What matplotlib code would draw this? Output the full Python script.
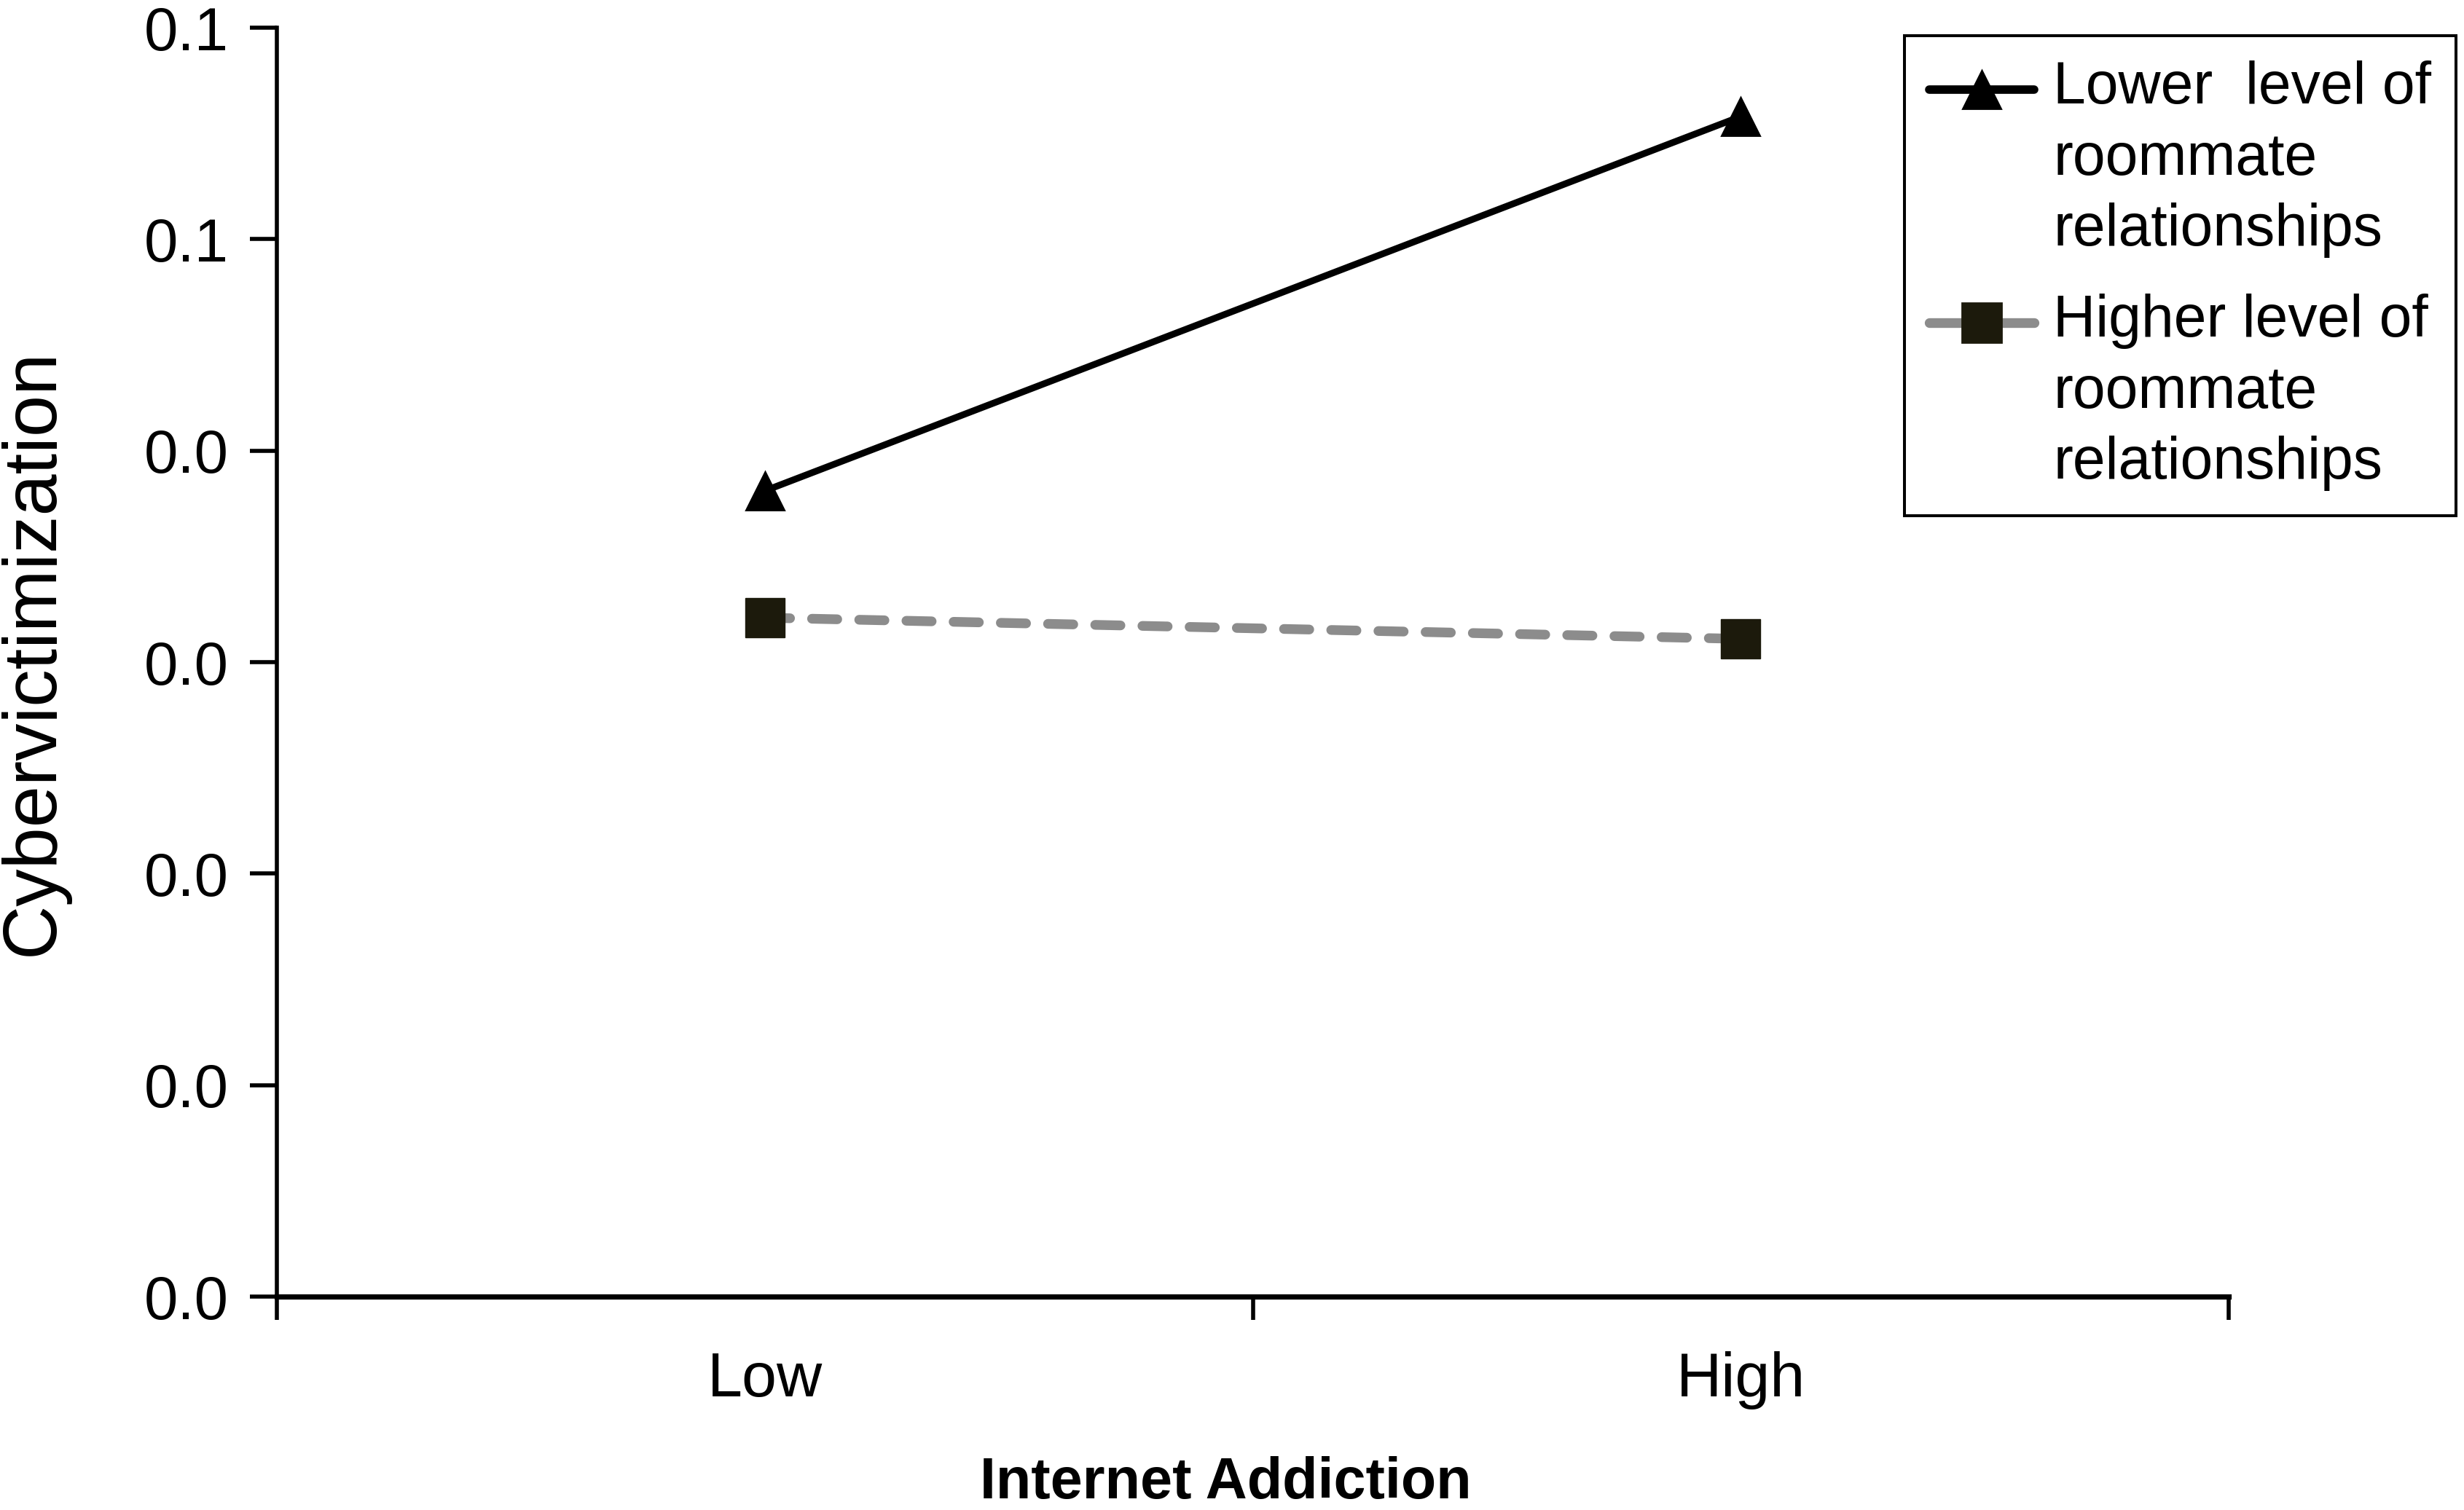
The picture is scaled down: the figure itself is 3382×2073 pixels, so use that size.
import matplotlib
matplotlib.use("Agg")
import matplotlib.pyplot as plt
from matplotlib.lines import Line2D
from matplotlib.legend_handler import HandlerLine2D
from matplotlib.ticker import FormatStrFormatter

# ---- data ----
x_positions = [1, 3]
x_labels = ["Low", "High"]
lower_roommate = [0.0381, 0.0558]
higher_roommate = [0.0321, 0.0311]
y_ticks = [0.00, 0.01, 0.02, 0.03, 0.04, 0.05, 0.06]
x_major_ticks = [0, 2, 4]
series_labels = ["Lower  level of\nroommate\nrelationships",
                 "Higher level of\nroommate\nrelationships"]
x_title = "Internet Addiction"
y_title = "Cybervictimization"

plt.rcParams['font.family'] = ['Liberation Sans', 'DejaVu Sans']

W, H, DPI = 3382, 2073, 200
fig = plt.figure(figsize=(W / DPI, H / DPI), dpi=DPI)
ax = fig.add_axes([380 / W, 1 - 1780 / H, (3059 - 380) / W, (1780 - 38) / H])

gray = '#8c8c8c'
sqcol = '#1c1a0c'

ax.plot(x_positions, lower_roommate, color='black', lw=3.3, marker='^',
        markersize=18.5, markerfacecolor='black', markeredgecolor='black',
        solid_capstyle='round', zorder=3)
ln2, = ax.plot(x_positions, higher_roommate, color=gray, lw=4.8, marker='s',
               markersize=19.5, markerfacecolor=sqcol, markeredgecolor=sqcol,
               markeredgewidth=0.5, dash_capstyle='round', zorder=3)
ln2.set_dashes((2.6, 2.26))

ax.set_xlim(0, 4)
ax.set_ylim(0, 0.06)
ax.set_yticks(y_ticks)
ax.yaxis.set_major_formatter(FormatStrFormatter('%.1f'))
ax.set_xticks(x_major_ticks)
ax.set_xticklabels([])
ax.set_xticks(x_positions, minor=True)
ax.set_xticklabels(x_labels, minor=True)

for s in ['top', 'right']:
    ax.spines[s].set_visible(False)
ax.spines['left'].set_linewidth(2.0)
ax.spines['bottom'].set_linewidth(2.6)

ax.tick_params(axis='y', which='major', direction='out', length=13.3, width=2.0,
               pad=10.5, labelsize=30, colors='black')
ax.tick_params(axis='x', which='major', direction='out', length=11.6, width=2.0)
ax.tick_params(axis='x', which='minor', length=0, pad=27, labelsize=31)

fig.text(1682 / W, 1 - 2057 / H, x_title, fontsize=28.5, fontweight='bold',
         ha='center', va='baseline')
fig.text(95 / W, 1 - 895 / H, y_title, fontsize=37, rotation=90,
         ha='right', va='center')


class TopLineHandler(HandlerLine2D):
    def __init__(self, shift, **kw):
        super().__init__(**kw)
        self.shift = shift

    def create_artists(self, legend, orig_handle, xdescent, ydescent, width,
                       height, fontsize, trans):
        arts = super().create_artists(legend, orig_handle, xdescent, ydescent,
                                      width, height, fontsize, trans)
        for a in arts:
            a.set_ydata([y + self.shift for y in a.get_ydata()])
        return arts


h1 = Line2D([], [], color='black', lw=4.2, marker='^', markersize=18.5,
            markerfacecolor='black', solid_capstyle='round')
h2 = Line2D([], [], color=gray, lw=4.8, marker='s', markersize=19.5,
            markerfacecolor=sqcol, markeredgecolor=sqcol,
            solid_capstyle='round')
shift = 34.8
leg = ax.legend([h1, h2], series_labels, loc='upper right',
                bbox_to_anchor=(3371 / W, 1 - 49 / H),
                bbox_transform=fig.transFigure, fontsize=29, frameon=True,
                fancybox=False, edgecolor='black', framealpha=1,
                handlelength=1.78, handletextpad=0.33, borderpad=0.42,
                labelspacing=0.6, borderaxespad=0, numpoints=1,
                handler_map={h1: TopLineHandler(shift), h2: TopLineHandler(shift)})
leg.get_frame().set_linewidth(1.45)
for t in leg.get_texts():
    t.set_linespacing(1.37)

fig.savefig('out.png', dpi=DPI)
